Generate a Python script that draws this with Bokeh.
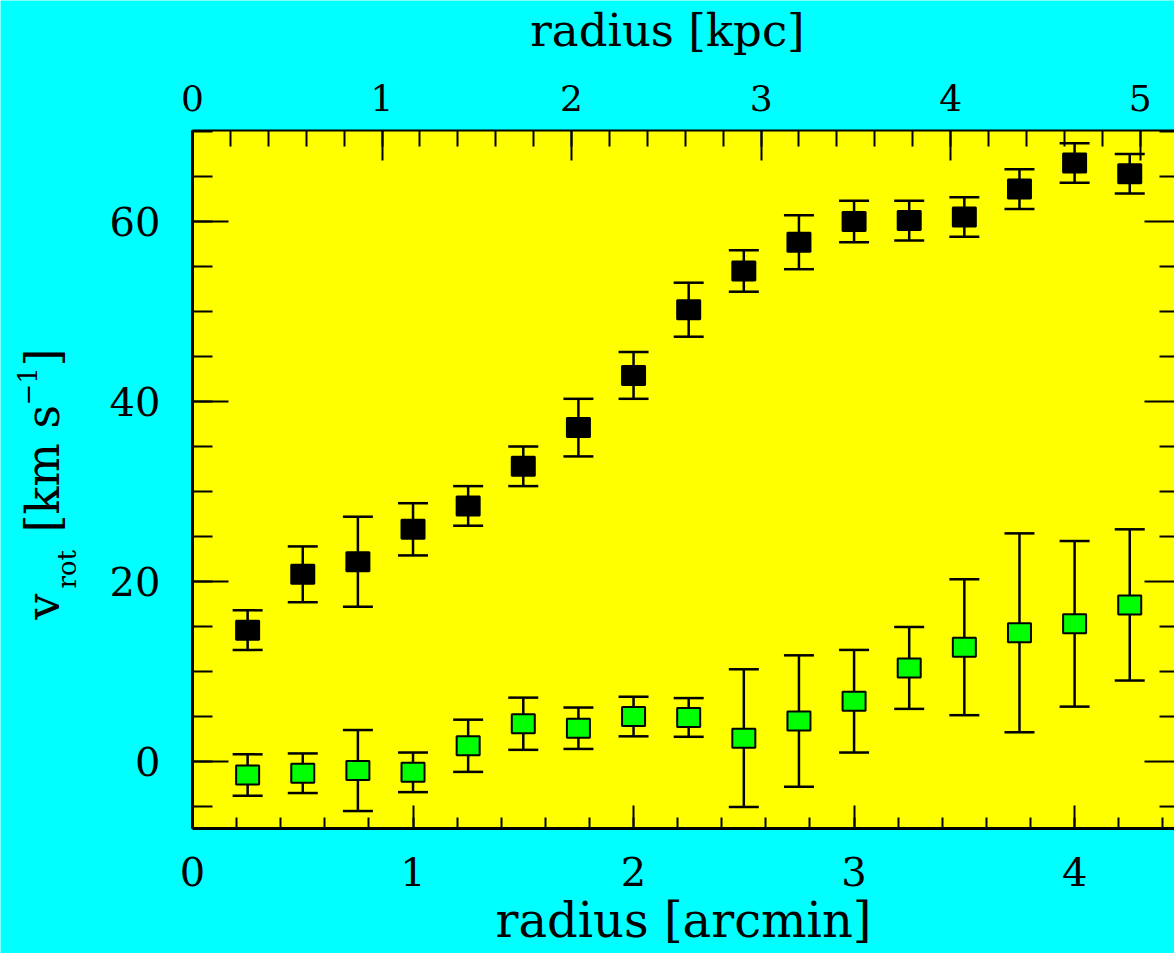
import math

from bokeh.plotting import figure
from bokeh.models import (Range1d, LinearAxis, SingleIntervalTicker, ColumnDataSource,
                          Whisker, TeeHead, Label, BoxAnnotation)
from bokeh.embed import file_html
from bokeh.resources import INLINE

# ---- data -------------------------------------------------------------
radius_arcmin = [0.25, 0.50, 0.75, 1.00, 1.25, 1.50, 1.75, 2.00, 2.25,
                 2.50, 2.75, 3.00, 3.25, 3.50, 3.75, 4.00, 4.25]

# rotation velocity (black) and its uncertainty, km/s
vrot = [14.6, 20.8, 22.2, 25.8, 28.4, 32.8, 37.1, 42.9, 50.2,
        54.5, 57.7, 60.0, 60.1, 60.5, 63.6, 66.5, 65.3]
vrot_err = [2.2, 3.1, 5.0, 2.9, 2.2, 2.2, 3.2, 2.6, 3.0,
            2.3, 3.0, 2.3, 2.2, 2.2, 2.2, 2.2, 2.2]

# second velocity component (green) and its uncertainty, km/s
vrad = [-1.5, -1.3, -1.0, -1.2, 1.75, 4.2, 3.7, 5.0, 4.9,
        2.6, 4.5, 6.7, 10.4, 12.7, 14.3, 15.3, 17.4]
vrad_err = [2.3, 2.2, 4.5, 2.2, 2.9, 2.9, 2.3, 2.2, 2.15,
            7.65, 7.3, 5.7, 4.55, 7.55, 11.05, 9.2, 8.4]

y_major_step = 20
y_minor_step = 5

DIST_MPC = 4.0
KPC_PER_ARCMIN = DIST_MPC * 1000.0 * math.pi / (180.0 * 60.0)

# ---- layout -----------------------------------------------------------
PAGE_W, PAGE_H = 1174, 953
# plotting box inside the page, in pixels
BOX_LEFT, BOX_TOP = 192, 130
BOX_W, BOX_H = 982, 698
BOX_BOTTOM = PAGE_H - BOX_TOP - BOX_H
# data limits of the plotting box
X0, X1 = 0.0, 4.453
Y0, Y1 = -7.44, 70.11

SX = BOX_W / (X1 - X0)
SY = BOX_H / (Y1 - Y0)

CYAN = "#00ffff"
YELLOW = "#ffff00"
GREEN = "#00ff00"
FONT = "DejaVu Serif"

# the frame fills the whole page; axes sit at fixed data positions
p = figure(width=PAGE_W, height=PAGE_H,
           x_range=Range1d(X0 - BOX_LEFT / SX, X1),
           y_range=Range1d(Y0 - BOX_BOTTOM / SY, Y1 + BOX_TOP / SY),
           x_axis_location=None, y_axis_location=None,
           output_backend="svg", toolbar_location=None, min_border=0)
p.extra_x_ranges = {"kpc": Range1d(p.x_range.start * KPC_PER_ARCMIN,
                                   p.x_range.end * KPC_PER_ARCMIN)}

p.background_fill_color = CYAN
p.border_fill_color = CYAN
p.outline_line_color = None
p.xgrid.visible = False
p.ygrid.visible = False

p.add_layout(BoxAnnotation(left=X0, right=X1, bottom=Y0, top=Y1,
                           fill_color=YELLOW, fill_alpha=1.0,
                           line_color=None, level="image"))


def style_axis(ax, major_in, minor_in, line_width=2, label_size="40px"):
    ax.axis_line_color = "black"
    ax.axis_line_width = line_width
    ax.major_tick_in = major_in
    ax.major_tick_out = 0
    ax.minor_tick_in = minor_in
    ax.minor_tick_out = 0
    ax.major_tick_line_color = "black"
    ax.minor_tick_line_color = "black"
    ax.major_tick_line_width = 2
    ax.minor_tick_line_width = 2
    ax.major_label_text_font = FONT
    ax.major_label_text_font_size = label_size
    ax.major_label_text_color = "black"


bottom = LinearAxis(ticker=SingleIntervalTicker(interval=1, num_minor_ticks=5),
                    fixed_location=Y0, bounds=(X0, X1))
style_axis(bottom, 23, 11, line_width=3)
bottom.major_label_standoff = 28
p.add_layout(bottom, "below")

top = LinearAxis(x_range_name="kpc",
                 ticker=SingleIntervalTicker(interval=1, num_minor_ticks=5),
                 fixed_location=Y1, bounds=(X0 * KPC_PER_ARCMIN, X1 * KPC_PER_ARCMIN))
style_axis(top, 30, 16, line_width=2, label_size="36px")
top.major_label_standoff = 20
p.add_layout(top, "above")

left = LinearAxis(ticker=SingleIntervalTicker(interval=y_major_step, num_minor_ticks=4),
                  fixed_location=X0, bounds=(Y0, Y1))
style_axis(left, 36, 20, line_width=3)
left.major_label_standoff = 32
p.add_layout(left, "left")

# inward ticks along the right edge of the box (no labels there)
n_lo = math.ceil(Y0 / y_minor_step)
n_hi = math.floor(Y1 / y_minor_step)
tick_vals = [k * y_minor_step for k in range(n_lo, n_hi + 1)]
major_vals = [v for v in tick_vals if v % y_major_step == 0]
minor_vals = [v for v in tick_vals if v % y_major_step != 0]
p.ray(x=[X1] * len(major_vals), y=major_vals, length=30, length_units="screen",
      angle=math.pi, line_color="black", line_width=2)
p.ray(x=[X1] * len(minor_vals), y=minor_vals, length=15, length_units="screen",
      angle=math.pi, line_color="black", line_width=2)

# ---- error bars and points ---------------------------------------------
def bars(xs, ys, errs):
    return ColumnDataSource(dict(x=xs, y=ys,
                                 lo=[a - b for a, b in zip(ys, errs)],
                                 hi=[a + b for a, b in zip(ys, errs)]))


for ys, errs, fill in ((vrot, vrot_err, "black"), (vrad, vrad_err, GREEN)):
    src = bars(radius_arcmin, ys, errs)
    w = Whisker(source=src, base="x", lower="lo", upper="hi",
                line_color="black", line_width=2.5,
                upper_head=TeeHead(size=30, line_color="black", line_width=2.5),
                lower_head=TeeHead(size=30, line_color="black", line_width=2.5))
    p.add_layout(w)
    p.rect(x="x", y="y", width=23, height=19, width_units="screen",
           height_units="screen", source=src, fill_color=fill,
           line_color="black", line_width=2)

# ---- axis titles (page pixels, measured from the top-left corner) ---------
# px/py give where the text baseline should fall; the label anchor sits a
# little above the baseline, so it is shifted by a fraction of the font size.
BASELINE_SHIFT = 0.385


def title(txt, px, py, size_px, angle=0.0, align="center"):
    d = BASELINE_SHIFT * size_px
    if angle:
        px -= d            # rotated text: baseline runs vertically
    else:
        py -= d
    p.add_layout(Label(x=px, y=PAGE_H - py, x_units="screen", y_units="screen",
                       text=txt, angle=angle,
                       text_font=FONT, text_font_size=f"{size_px}px",
                       text_color="black",
                       text_align=align, text_baseline="alphabetic"))


title("radius [kpc]", 667, 47, 45)
title("radius [arcmin]", 683, 938, 48)

# v_rot [km s^-1], rotated to read upwards
up = math.pi / 2
title("v", 60, 619, 46, up, "left")
title("rot", 77, 588, 26, up, "left")
title("[km s", 60, 532, 46, up, "left")
title("\u22121", 37, 405, 26, up, "left")
title("]", 60, 366, 46, up, "left")

open("out.html", "w").write(file_html(p, INLINE))
